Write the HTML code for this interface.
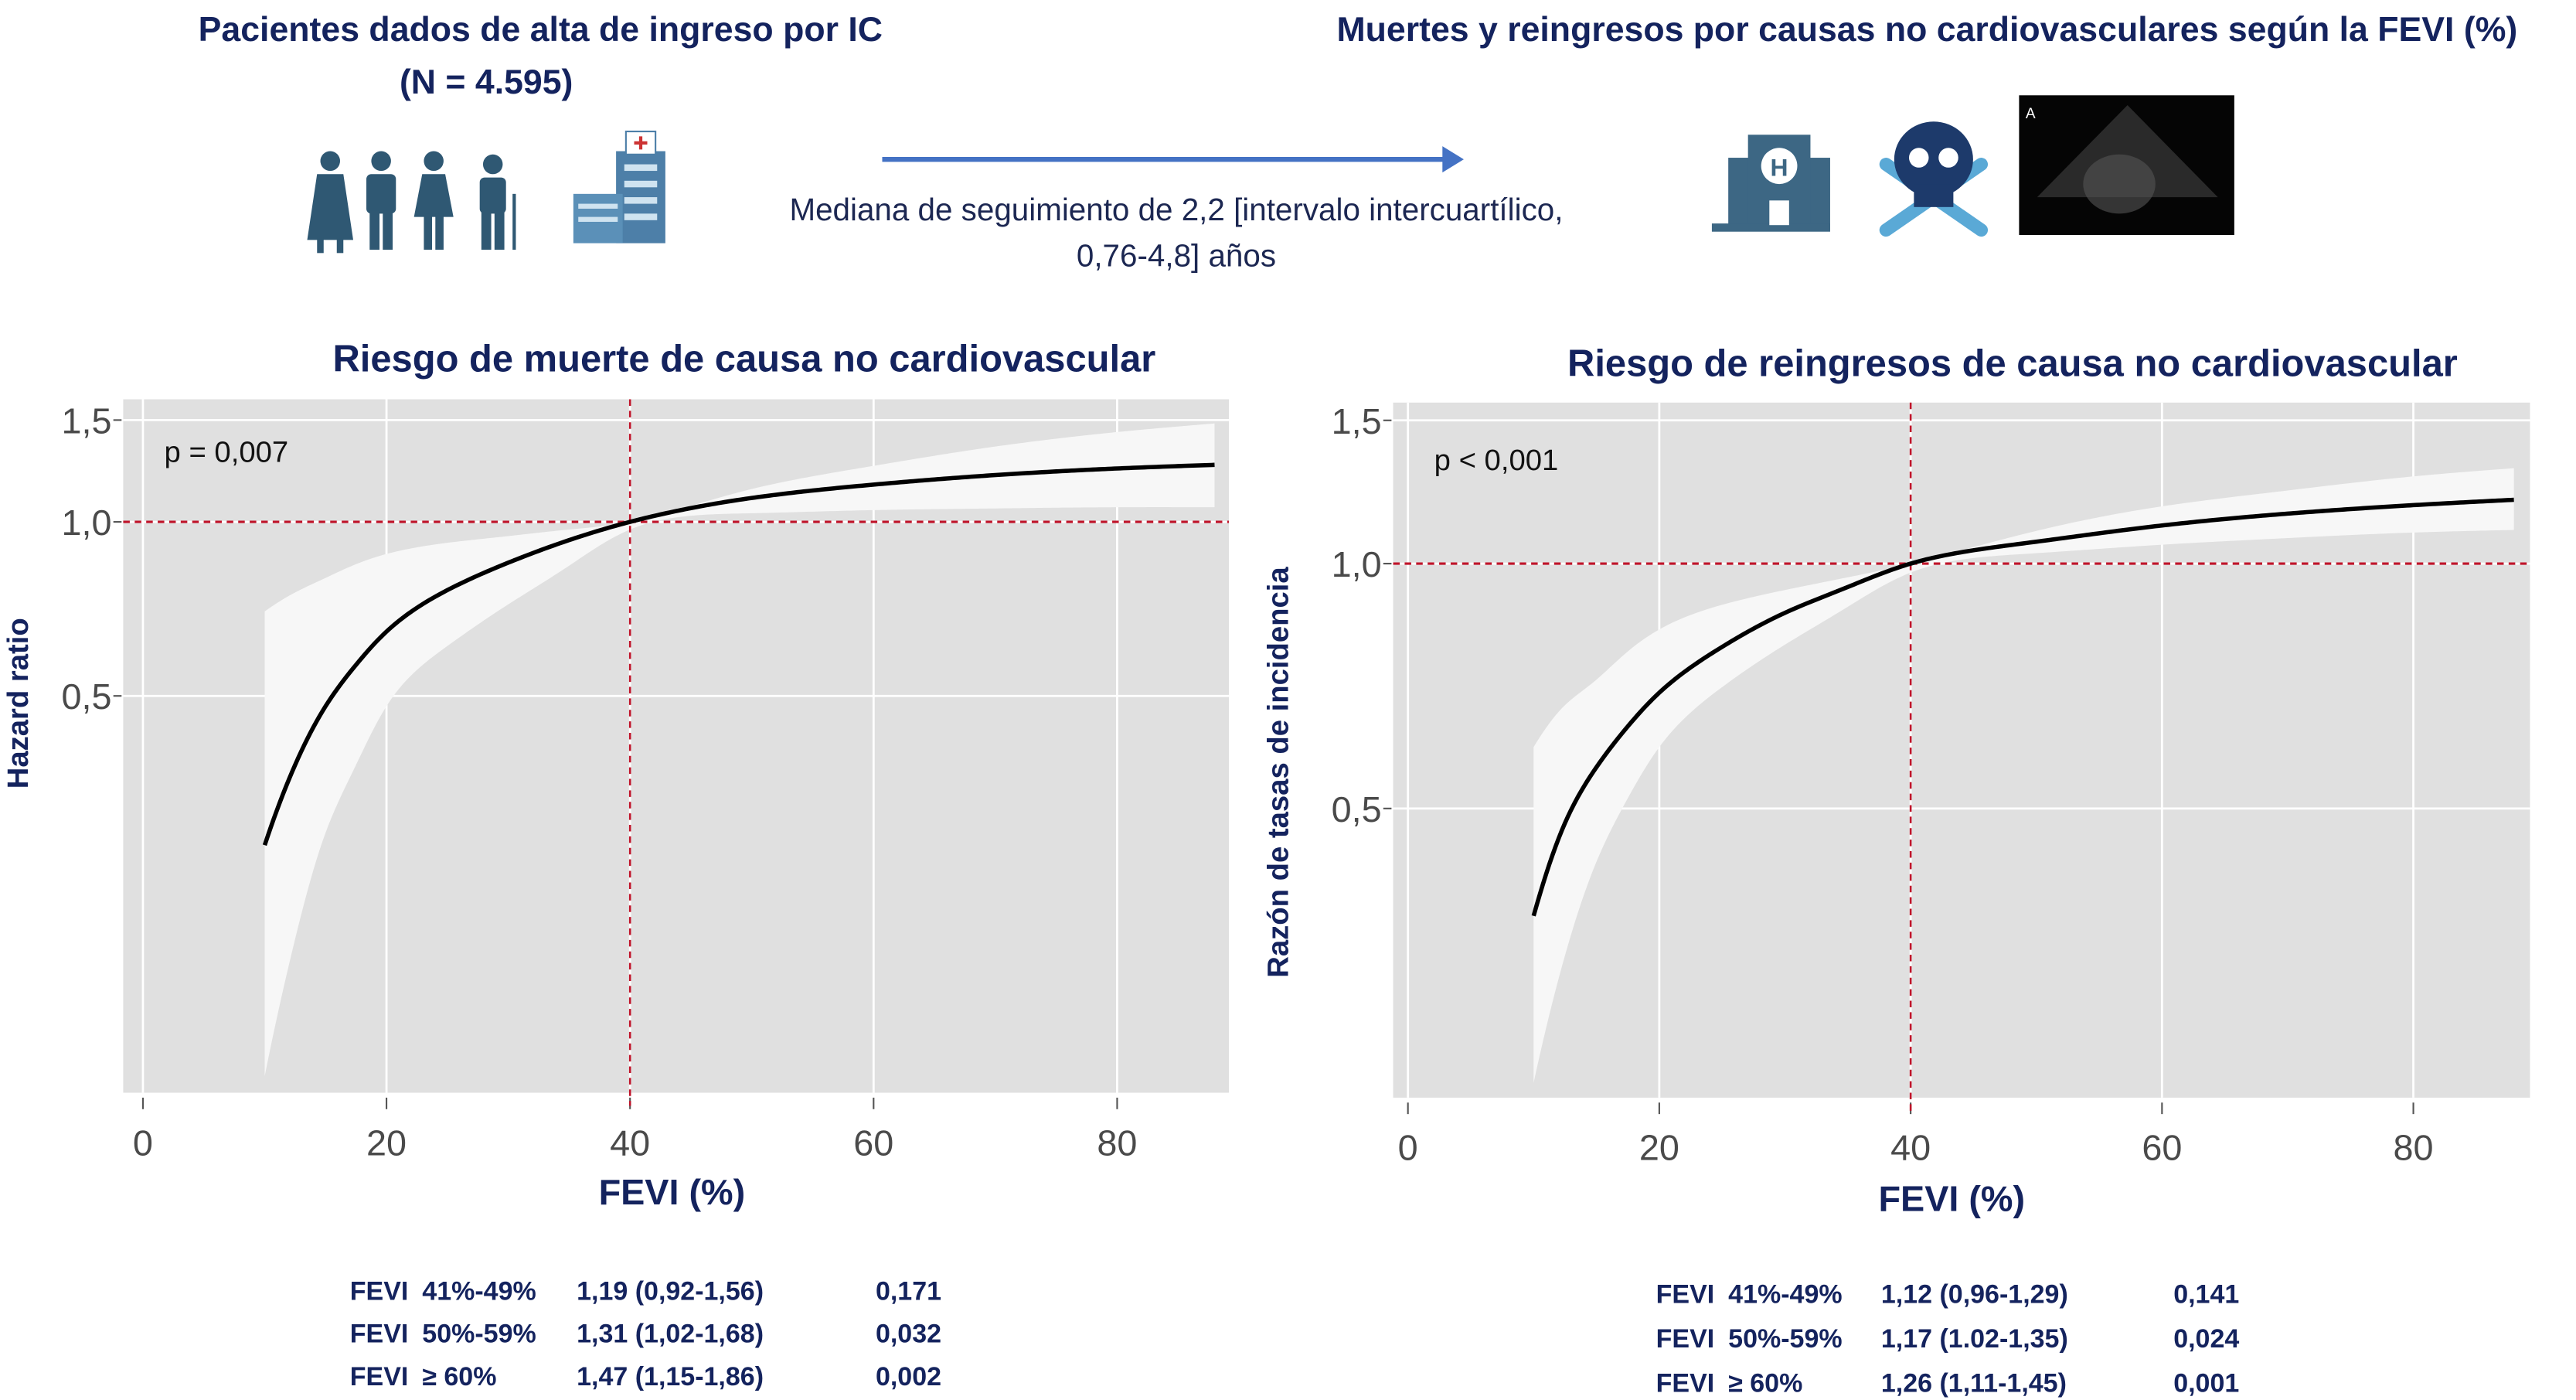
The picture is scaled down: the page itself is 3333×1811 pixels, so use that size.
<!DOCTYPE html>
<html><head><meta charset="utf-8"><style>
html,body{margin:0;padding:0;background:#fff;}
svg{display:block;}
text{font-family:"Liberation Sans",sans-serif;}
.navy{fill:#14235e;font-weight:bold;}
.tick{fill:#4a4a4a;font-size:22px;}
.tbl{fill:#14235e;font-weight:bold;font-size:16px;}
</style></head><body>
<svg id="root" width="3333" height="1811" viewBox="0 0 1568 852" preserveAspectRatio="none">
<rect width="1568" height="852" fill="#fff"/>
<text class="navy" x="329" y="25" font-size="21" text-anchor="middle">Pacientes dados de alta de ingreso por IC</text>
<text class="navy" x="296" y="57" font-size="21" text-anchor="middle">(N = 4.595)</text>
<text class="navy" x="1173" y="25" font-size="21" text-anchor="middle">Muertes y reingresos por causas no cardiovasculares según la FEVI (%)</text>
<g fill="#2f5873">
 <circle cx="201" cy="98" r="6"/><path d="M193 106h16l6 40h-28z"/><rect x="193" y="144" width="4" height="10"/><rect x="205" y="144" width="4" height="10"/>
 <circle cx="232" cy="98" r="6"/><rect x="223" y="106" width="18" height="24" rx="3"/><rect x="225" y="128" width="6" height="24"/><rect x="233" y="128" width="6" height="24"/>
 <circle cx="264" cy="98" r="6"/><path d="M257 106h14l5 26h-24z"/><rect x="258" y="130" width="5" height="22"/><rect x="265" y="130" width="5" height="22"/>
 <circle cx="300" cy="100" r="6"/><rect x="292" y="108" width="16" height="22" rx="3"/><rect x="293" y="128" width="6" height="24"/><rect x="301" y="128" width="6" height="24"/><rect x="312" y="118" width="2" height="34"/>
</g>
<g>
 <rect x="375" y="92" width="30" height="56" fill="#4d7fa8"/><rect x="349" y="118" width="30" height="30" fill="#5b90b8"/>
 <rect x="381" y="80" width="18" height="14" fill="#fff" stroke="#4d7fa8"/><path d="M390 83v8M386 87h8" stroke="#c33" stroke-width="2"/>
 <g fill="#cfe3f0"><rect x="380" y="100" width="20" height="4"/><rect x="380" y="110" width="20" height="4"/><rect x="380" y="120" width="20" height="4"/><rect x="380" y="130" width="20" height="4"/><rect x="352" y="124" width="24" height="3"/><rect x="352" y="132" width="24" height="3"/></g>
</g>
<line x1="537" y1="97" x2="880" y2="97" stroke="#4472c4" stroke-width="3"/>
<path d="M878 89l13 8-13 8z" fill="#4472c4"/>
<text x="716" y="134" font-size="19" fill="#1c2752" text-anchor="middle">Mediana de seguimiento de 2,2 [intervalo intercuartílico,</text>
<text x="716" y="162" font-size="19" fill="#1c2752" text-anchor="middle">0,76-4,8] años</text>
<g fill="#3d6784">
 <rect x="1052" y="96" width="18" height="44"/><rect x="1096" y="96" width="18" height="44"/><rect x="1064" y="82" width="38" height="58"/><rect x="1042" y="136" width="72" height="5"/>
 <circle cx="1083" cy="101" r="11" fill="#fff"/><text x="1083" y="107" font-size="15" font-weight="bold" fill="#3d6784" text-anchor="middle">H</text>
 <rect x="1077" y="122" width="12" height="15" fill="#fff"/>
</g>
<g>
 <path d="M1148 100l58 40M1206 100l-58 40" stroke="#5aa9d6" stroke-width="8" stroke-linecap="round"/>
 <ellipse cx="1177" cy="97" rx="24" ry="23" fill="#1d3a6b"/><rect x="1165" y="112" width="24" height="14" fill="#1d3a6b"/>
 <circle cx="1168" cy="96" r="6" fill="#fff"/><circle cx="1186" cy="96" r="6" fill="#fff"/>
</g>
<rect x="1229" y="58" width="131" height="85" fill="#050505"/>
<path d="M1295 64l-55 56 110 0z" fill="#2a2a2a"/><text x="1233" y="72" font-size="9" fill="#fff">A</text>
<ellipse cx="1290" cy="112" rx="22" ry="18" fill="#555" opacity="0.6"/>
<g id="c1"></g><g id="c2"></g>
<text class="navy" x="453" y="226" font-size="23" text-anchor="middle">Riesgo de muerte de causa no cardiovascular</text>
<text class="navy" x="1225" y="229" font-size="23" text-anchor="middle">Riesgo de reingresos de causa no cardiovascular</text>
<g id="t1"></g><g id="t2"></g>
</svg>
<script>
const ticksX=[0,20,40,60,80];
const ticksY=[0.5,1.0,1.5];
const tickYLabels=["0,5","1,0","1,5"];
const fevi=[10,12.5,15,17.5,20,25,30,35,40,50,60,70,80,88];
const hrFit=[0.276,0.38,0.48,0.566,0.646,0.762,0.85,0.93,1.0,1.10,1.16,1.205,1.237,1.255];
const hrUpper=[0.70,0.755,0.80,0.845,0.88,0.92,0.945,0.97,1.0,1.14,1.25,1.35,1.43,1.48];
const hrLower=[0.11,0.19,0.29,0.38,0.48,0.61,0.72,0.84,0.97,1.035,1.048,1.055,1.06,1.06];
const irrFit=[0.369,0.48,0.562,0.631,0.694,0.79,0.87,0.936,1.0,1.064,1.114,1.152,1.18,1.198];
const irrUpper=[0.595,0.67,0.72,0.78,0.83,0.89,0.928,0.962,1.0,1.097,1.176,1.23,1.28,1.31];
const irrLower=[0.23,0.33,0.43,0.515,0.595,0.705,0.795,0.885,0.975,1.03,1.055,1.075,1.092,1.10];
const tbl1=[["41%-49%","1,19 (0,92-1,56)","0,171"],["50%-59%","1,31 (1,02-1,68)","0,032"],["≥ 60%","1,47 (1,15-1,86)","0,002"]];
const tbl2=[["41%-49%","1,12 (0,96-1,29)","0,141"],["50%-59%","1,17 (1.02-1,35)","0,024"],["≥ 60%","1,26 (1,11-1,45)","0,001"]];
const NS="http://www.w3.org/2000/svg";
function mk(p,t,a){const e=document.createElementNS(NS,t);for(const k in a)e.setAttribute(k,a[k]);p.appendChild(e);return e;}
// natural cubic spline
function spline(xs,ys){const n=xs.length,h=[],al=[],l=[1],mu=[0],z=[0],c=new Array(n).fill(0),b=[],d=[];
 for(let i=0;i<n-1;i++)h.push(xs[i+1]-xs[i]);
 for(let i=1;i<n-1;i++)al[i]=3/h[i]*(ys[i+1]-ys[i])-3/h[i-1]*(ys[i]-ys[i-1]);
 for(let i=1;i<n-1;i++){l[i]=2*(xs[i+1]-xs[i-1])-h[i-1]*mu[i-1];mu[i]=h[i]/l[i];z[i]=(al[i]-h[i-1]*z[i-1])/l[i];}
 for(let j=n-2;j>=0;j--){c[j]=(j>0?z[j]:0)-mu[j]*c[j+1];b[j]=(ys[j+1]-ys[j])/h[j]-h[j]*(c[j+1]+2*c[j])/3;d[j]=(c[j+1]-c[j])/(3*h[j]);}
 return x=>{let i=0;while(i<n-2&&x>xs[i+1])i++;const t=x-xs[i];return ys[i]+b[i]*t+c[i]*t*t+d[i]*t*t*t;};}
function sample(vals){const f=spline(fevi.map(Math.log),vals.map(v=>Math.log(v)));const out=[];for(let x=fevi[0];x<=fevi[fevi.length-1]+1e-9;x+=0.25)out.push([x,Math.exp(f(Math.log(x)))]);return out;}
function chart(g,cfg,fit,up,lo,name){
 const xs=v=>cfg.x0+v*(cfg.x80-cfg.x0)/80, ys=v=>cfg.y1-cfg.k*Math.log(v);
 const bg=mk(g,"rect",{x:cfg.L,y:cfg.T,width:cfg.R-cfg.L,height:cfg.B-cfg.T,fill:"#e0e0e0"});
 
 
 ticksX.forEach(t=>{mk(g,"line",{x1:xs(t),x2:xs(t),y1:cfg.T,y2:cfg.B,stroke:"#fff","stroke-width":1.3});
  mk(g,"line",{x1:xs(t),x2:xs(t),y1:cfg.B+3,y2:cfg.B+10,stroke:"#555","stroke-width":1});
  const tx=mk(g,"text",{x:xs(t),y:cfg.B+38,"text-anchor":"middle",class:"tick"});tx.textContent=t;
  
  });
 ticksY.forEach((t,i)=>{mk(g,"line",{x1:cfg.L,x2:cfg.R,y1:ys(t),y2:ys(t),stroke:"#fff","stroke-width":1.3});
  mk(g,"line",{x1:cfg.L-6,x2:cfg.L-1,y1:ys(t),y2:ys(t),stroke:"#555","stroke-width":1});
  const tx=mk(g,"text",{x:cfg.L-7,y:ys(t)+8,"text-anchor":"end",class:"tick"});tx.textContent=tickYLabels[i];
  
  });
 const U=sample(up).map(p=>xs(p[0]).toFixed(2)+","+ys(p[1]).toFixed(2));
 const Lw=sample(lo).map(p=>xs(p[0]).toFixed(2)+","+ys(p[1]).toFixed(2)).reverse();
 const band=mk(g,"polygon",{points:U.concat(Lw).join(" "),fill:"#f7f7f7"});
 
 
 const h=mk(g,"line",{x1:cfg.L,x2:cfg.R,y1:ys(1),y2:ys(1),stroke:"#c0142a","stroke-width":1.5,"stroke-dasharray":"4 3"});
 
 
 const v=mk(g,"line",{x1:xs(40),x2:xs(40),y1:cfg.T,y2:cfg.B+8,stroke:"#c0142a","stroke-width":1.2,"stroke-dasharray":"4 3"});
 
 
 const c=mk(g,"polyline",{points:sample(fit).map(p=>xs(p[0]).toFixed(2)+","+ys(p[1]).toFixed(2)).join(" "),fill:"none",stroke:"#000","stroke-width":2.6,"stroke-linejoin":"round"});
 
 
 const p=mk(g,"text",{x:cfg.px,y:cfg.py,"font-size":18,fill:"#111"});p.textContent=cfg.p;
 
 
 const xt=mk(g,"text",{x:cfg.xtx,y:cfg.xty,"text-anchor":"middle",class:"navy","font-size":22});xt.textContent="FEVI (%)";
 
 
 const yt=mk(g,"text",{transform:"translate("+cfg.ytx+","+cfg.yty+") rotate(-90)","text-anchor":"middle",class:"navy","font-size":18});yt.textContent=cfg.yt;
 
 
}
chart(document.getElementById("c1"),{L:75,R:748,T:243,B:665,x0:87,x80:680,y1:317.6,k:152.8,p:"p = 0,007",px:100,py:281,xtx:409,xty:733,ytx:17,yty:428,yt:"Hazard ratio"},hrFit,hrUpper,hrLower,"hr-chart");
chart(document.getElementById("c2"),{L:848,R:1540,T:245,B:668,x0:857,x80:1469,y1:343,k:215,p:"p < 0,001",px:873,py:286,xtx:1188,xty:737,ytx:784,yty:470,yt:"Razón de tasas de incidencia"},irrFit,irrUpper,irrLower,"irr-chart");
function table(g,rows,x,y0,dy,name){rows.forEach((r,i)=>{const y=y0+i*dy;
 const a=mk(g,"text",{x:x[0],y:y,class:"tbl"});a.textContent="FEVI";
 
 
 [1,2,3].forEach(j=>{const t=mk(g,"text",{x:x[j],y:y,class:"tbl","font-size":j==1?15:18});t.textContent=r[j-1];
  
  });});}
table(document.getElementById("t1"),tbl1,[213,257,351,533],791,26,"hr-table");
table(document.getElementById("t2"),tbl2,[1008,1052,1145,1323],793,27,"irr-table");
</script>
</body></html>
